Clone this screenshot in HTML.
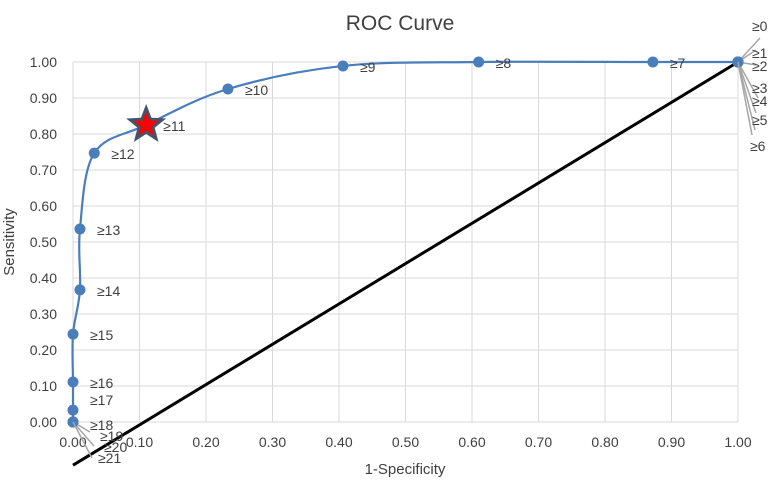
<!DOCTYPE html>
<html><head><meta charset="utf-8"><style>
body{margin:0;background:#fff;}
svg text{font-family:"Liberation Sans",sans-serif;fill:#404040;}
</style></head><body>
<svg width="776" height="482">
<g id="grid"></g><g id="axes"></g><g id="marks"></g>
<text x="400" y="30" text-anchor="middle" font-size="21" fill="#595959">ROC Curve</text>
<text x="405" y="474" text-anchor="middle" font-size="15">1-Specificity</text>
<text x="14" y="242" text-anchor="middle" font-size="15" transform="rotate(-90 14 242)">Sensitivity</text>
</svg>
<script>
const fprs=[1,1,1,1,1,1,1,0.872,0.61,0.406,0.233,0.11,0.032,0.0105,0.0105,0,0,0,0,0,0,0];
const tprs=[1,1,1,1,1,1,1,1,1,0.989,0.925,0.825,0.747,0.536,0.367,0.244,0.111,0.033,0,0,0,0];
const labels=["≥0","≥1","≥2","≥3","≥4","≥5","≥6","≥7","≥8","≥9","≥10","≥11","≥12","≥13","≥14","≥15","≥16","≥17","≥18","≥19","≥20","≥21"];
const ticks=[0,0.1,0.2,0.3,0.4,0.5,0.6,0.7,0.8,0.9,1.0];
const optimalIndex=11;
const diag=[[0,-0.12],[1,1]];
const X=v=>73+v*665, Y=v=>422-v*360;
const NS="http://www.w3.org/2000/svg";
function mk(p,t,a){const e=document.createElementNS(NS,t);for(const k in a)e.setAttribute(k,a[k]);p.appendChild(e);return e;}
const grid=document.getElementById('grid'),axes=document.getElementById('axes'),marks=document.getElementById('marks');
ticks.forEach(t=>{
 const h=mk(grid,'line',{x1:X(0),x2:X(1),y1:Y(t),y2:Y(t),stroke:'#d9d9d9','stroke-width':1});
 
 const v=mk(grid,'line',{x1:X(t),x2:X(t),y1:Y(0),y2:Y(1),stroke:'#d9d9d9','stroke-width':1});
 
 const yl=mk(axes,'text',{x:57,y:Y(t)+5,'text-anchor':'end','font-size':14});yl.textContent=t.toFixed(2);
 
 const xl=mk(axes,'text',{x:X(t),y:447,'text-anchor':'middle','font-size':14});xl.textContent=t.toFixed(2);
 
});
const dl=mk(marks,'line',{x1:X(diag[0][0]),y1:Y(diag[0][1]),x2:X(diag[1][0]),y2:Y(diag[1][1]),stroke:'#000','stroke-width':3});

const pts=[];fprs.forEach((f,i)=>{const p=[X(f),Y(tprs[i])];const l=pts[pts.length-1];if(!l||l[0]!==p[0]||l[1]!==p[1])pts.push(p);});
let d='M'+pts[0][0]+','+pts[0][1];
for(let i=0;i<pts.length-1;i++){const p0=pts[i-1]||pts[i],p1=pts[i],p2=pts[i+1],p3=pts[i+2]||p2;const s=6;
 d+=` C${p1[0]+(p2[0]-p0[0])/s},${p1[1]+(p2[1]-p0[1])/s} ${p2[0]-(p3[0]-p1[0])/s},${p2[1]-(p3[1]-p1[1])/s} ${p2[0]},${p2[1]}`;}
const cv=mk(marks,'path',{d:d,fill:'none',stroke:'#4a7ebb','stroke-width':2.2});

const off={0:[752,31,760,38],1:[752,58,756,50],2:[752,71,756,65],3:[752,93,758,98],4:[752,106,756,113],5:[752,125,755,130],6:[750,151,752,135],19:[100,441,90,432],20:[104,452,94,446],21:[98,463,92,458]};
fprs.forEach((f,i)=>{
 const cx=X(f),cy=Y(tprs[i]);
 const c=mk(marks,'circle',{cx:cx,cy:cy,r:5.5,fill:'#4a7ebb'});
 
 let tx,ty;
 if(off[i]){const o=off[i];tx=o[0];ty=o[1];
  const ln=mk(marks,'line',{x1:cx,y1:cy,x2:o[2],y2:o[3],stroke:'#a6a6a6','stroke-width':1.5});
  
 } else {tx=cx+17;ty=cy+6;if(i===18)ty=cy+8;if(i===17)ty=cy-5;}
 const t=mk(marks,'text',{x:tx,y:ty,'font-size':14});t.textContent=labels[i];
 
});
const sx=X(fprs[optimalIndex]),sy=Y(tprs[optimalIndex]);
function star(R,r){let s='';for(let k=0;k<10;k++){const a=-Math.PI/2+k*Math.PI/5,rr=k%2?r:R;s+=(sx+rr*Math.cos(a))+','+(sy+rr*Math.sin(a))+' ';}return s;}
const so=mk(marks,'polygon',{points:star(21,9),fill:'#44546a'});

const si=mk(marks,'polygon',{points:star(13,5.5),fill:'#ff0000'});

</script>
</body></html>
